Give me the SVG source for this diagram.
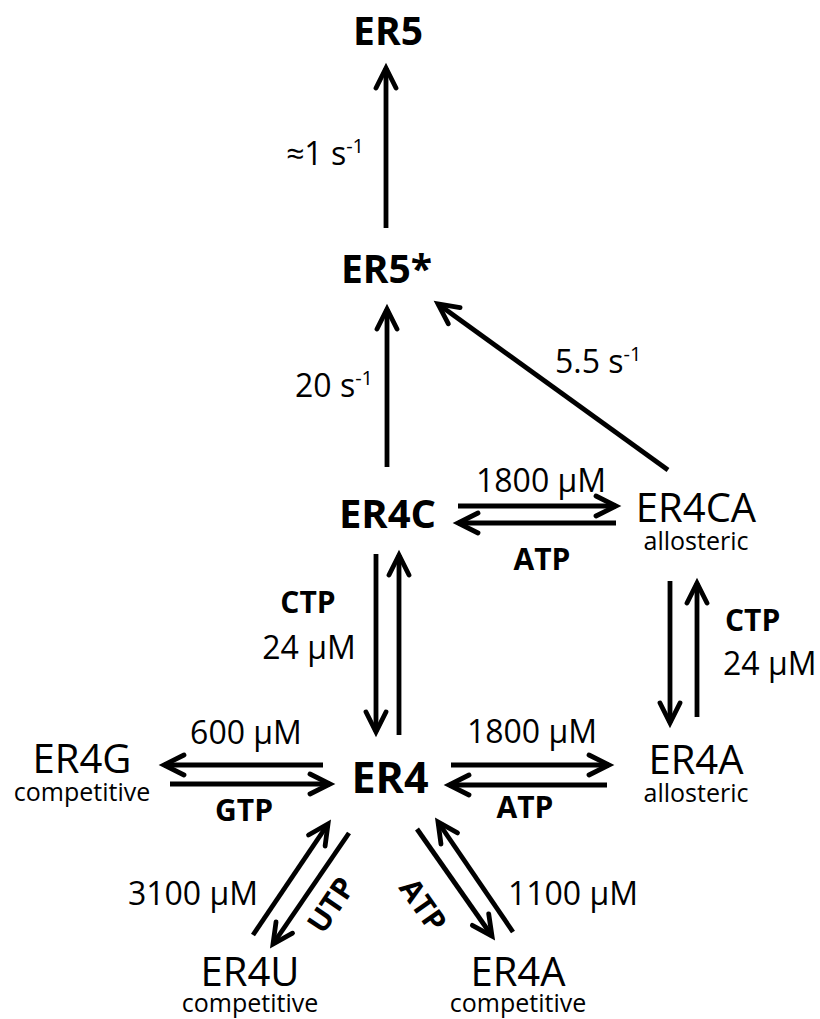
<svg xmlns="http://www.w3.org/2000/svg" width="820" height="1019" viewBox="0 0 820 1019">
<style>
.nb{font-family:"Open Sans","Liberation Sans",sans-serif;font-weight:bold;fill:#000}
.nr{font-family:"Open Sans","Liberation Sans",sans-serif;font-size:40px;fill:#000}
.sub{font-family:"Open Sans","Liberation Sans",sans-serif;font-size:25px;fill:#000}
.lb{font-family:"Open Sans","Liberation Sans",sans-serif;font-size:32px;fill:#000}
.lbb{font-family:"Open Sans","Liberation Sans",sans-serif;font-size:30px;font-weight:bold;fill:#000}
.sup{font-size:20px}
.c{stroke:#000;stroke-width:4.8;fill:none;marker-end:url(#ah)}
</style>
<defs>
<marker id="ah" markerUnits="userSpaceOnUse" orient="auto" refX="0" refY="0" markerWidth="40" markerHeight="40" overflow="visible">
<path d="M-20,-10 L0,0 L-20,10" fill="none" stroke="#000" stroke-width="4.8" stroke-linecap="round" stroke-linejoin="miter"/>
</marker>
</defs>
<rect width="820" height="1019" fill="#fff"/>
<g id="connectors">
<line class="c" x1="386" y1="228" x2="386" y2="68"/>
<line class="c" x1="387" y1="467" x2="387" y2="309"/>
<line class="c" x1="668" y1="470" x2="438" y2="304"/>
<line class="c" x1="458" y1="506" x2="616" y2="506"/>
<line class="c" x1="616" y1="523" x2="458" y2="523"/>
<line class="c" x1="376" y1="554" x2="376" y2="732"/>
<line class="c" x1="399" y1="735" x2="399" y2="555"/>
<line class="c" x1="670" y1="581" x2="670" y2="723"/>
<line class="c" x1="697" y1="717" x2="697" y2="583"/>
<line class="c" x1="323" y1="765" x2="164" y2="765"/>
<line class="c" x1="170" y1="784" x2="330" y2="784"/>
<line class="c" x1="451" y1="765" x2="609" y2="765"/>
<line class="c" x1="607" y1="785" x2="449" y2="785"/>
<line class="c" x1="253" y1="935" x2="328" y2="824"/>
<line class="c" x1="349" y1="833" x2="273" y2="944"/>
<line class="c" x1="417" y1="829" x2="492" y2="936"/>
<line class="c" x1="513" y1="932" x2="438" y2="822"/>
<text class="lb" x="286" y="165">≈1 s<tspan class="sup" dy="-12">-1</tspan></text>
<text class="lb" x="295" y="397">20 s<tspan class="sup" dy="-12">-1</tspan></text>
<text class="lb" x="555" y="373">5.5 s<tspan class="sup" dy="-12">-1</tspan></text>
<text class="lb" x="476" y="492">1800 µM</text>
<text class="lbb" x="542" y="570" text-anchor="middle">ATP</text>
<text class="lbb" x="308" y="613" text-anchor="middle">CTP</text>
<text class="lb" x="309" y="659" text-anchor="middle">24 µM</text>
<text class="lbb" x="725" y="631">CTP</text>
<text class="lb" x="723" y="675">24 µM</text>
<text class="lb" x="246" y="744" text-anchor="middle">600 µM</text>
<text class="lbb" x="244" y="821" text-anchor="middle">GTP</text>
<text class="lb" x="532" y="743" text-anchor="middle">1800 µM</text>
<text class="lbb" x="525" y="818" text-anchor="middle">ATP</text>
<text class="lb" x="258" y="905" text-anchor="end">3100 µM</text>
<text class="lb" x="638" y="905" text-anchor="end">1100 µM</text>
<text class="lbb" transform="translate(331,905) rotate(-56)" x="0" y="10.5" text-anchor="middle">UTP</text>
<text class="lbb" transform="translate(423,905) rotate(55)" x="0" y="10.5" text-anchor="middle">ATP</text>
</g>
<g id="ER5"><text class="nb" x="388" y="45" font-size="39" text-anchor="middle">ER5</text></g>
<g id="ER5star"><text class="nb" x="386.5" y="283" font-size="39" text-anchor="middle">ER5*</text></g>
<g id="ER4C"><text class="nb" x="387.5" y="528" font-size="40" text-anchor="middle">ER4C</text></g>
<g id="ER4CA"><text class="nr" x="696" y="522" text-anchor="middle">ER4CA</text><text class="sub" x="696" y="550" text-anchor="middle">allosteric</text></g>
<g id="ER4"><text class="nb" x="390" y="793" font-size="43" text-anchor="middle">ER4</text></g>
<g id="ER4G"><text class="nr" x="82" y="773" text-anchor="middle">ER4G</text><text class="sub" x="82" y="801" text-anchor="middle">competitive</text></g>
<g id="ER4A_allo"><text class="nr" x="696" y="774" text-anchor="middle">ER4A</text><text class="sub" x="696" y="802" text-anchor="middle">allosteric</text></g>
<g id="ER4U"><text class="nr" x="250" y="986" text-anchor="middle">ER4U</text><text class="sub" x="250" y="1012" text-anchor="middle">competitive</text></g>
<g id="ER4A_comp"><text class="nr" x="518" y="986" text-anchor="middle">ER4A</text><text class="sub" x="518" y="1012" text-anchor="middle">competitive</text></g>
</svg>
